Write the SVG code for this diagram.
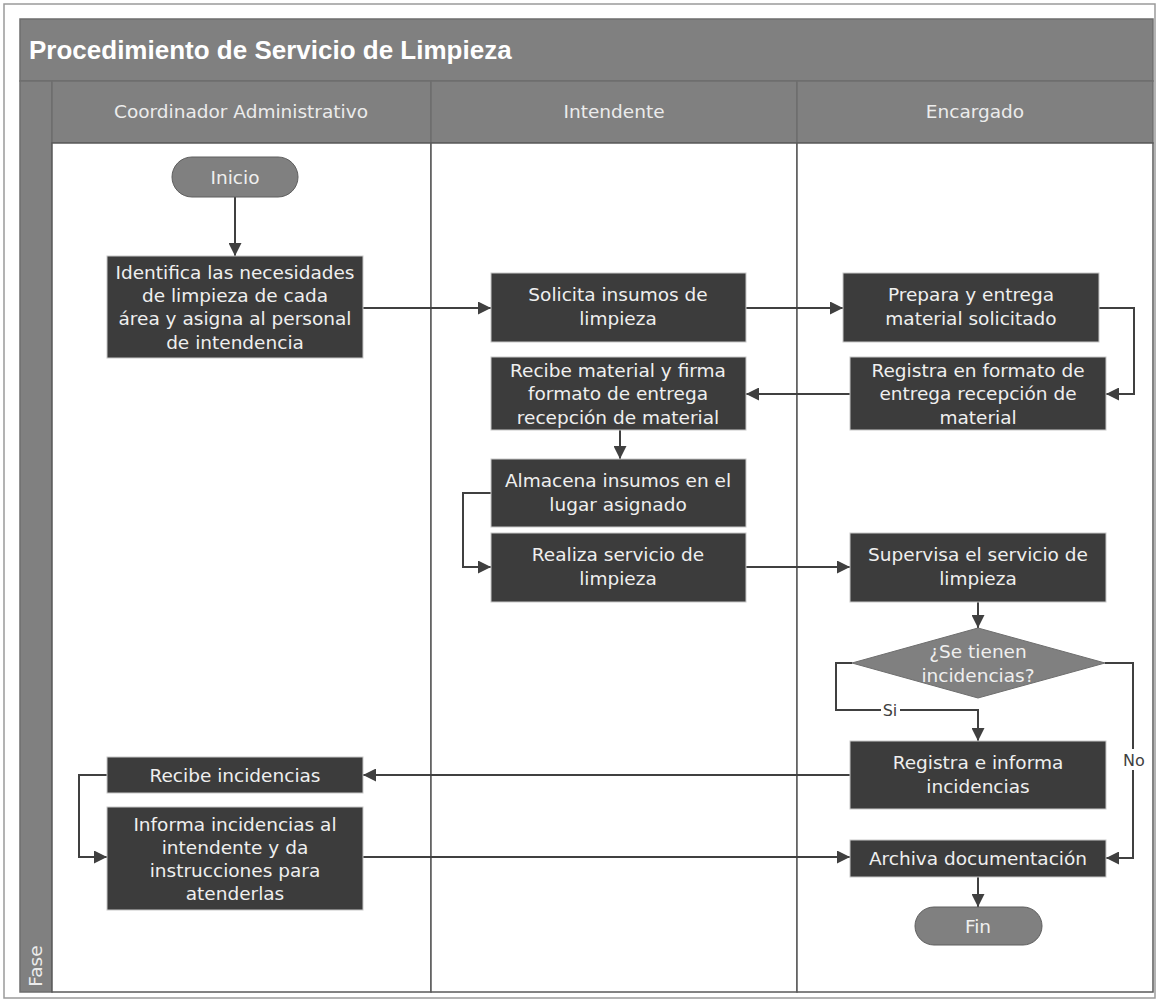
<svg xmlns="http://www.w3.org/2000/svg" width="1159" height="999" viewBox="0 0 1159 999">
<style>
  .frame{fill:none;stroke:#9a9a9a;stroke-width:1.5}
  .band{fill:#808080;stroke:#6e6e6e;stroke-width:1.5}
  .lane{fill:#ffffff;stroke:#5a5a5a;stroke-width:1.5}
  .title{font-family:"Liberation Sans",Arial,sans-serif;font-weight:bold;font-size:26px;fill:#ffffff}
  .hdr{font-family:"DejaVu Sans","Liberation Sans",sans-serif;font-size:18.5px;fill:#ececec;text-anchor:middle}
  .box{fill:#3c3c3c;stroke:#c8c8c8;stroke-width:1}
  .term{fill:#808080;stroke:#5e5e5e;stroke-width:1}
  .t{font-family:"DejaVu Sans","Liberation Sans",sans-serif;font-size:18.5px;fill:#efefef;text-anchor:middle}
  .conn{fill:none;stroke:#404040;stroke-width:2}
  .lbl{font-family:"DejaVu Sans","Liberation Sans",sans-serif;font-size:16px;fill:#404040;text-anchor:middle}
</style>
<defs>
  <marker id="arr" viewBox="0 0 12 12" refX="12" refY="6" markerWidth="13" markerHeight="13" markerUnits="userSpaceOnUse" orient="auto">
    <path d="M0,0 L12,6 L0,12 Z" fill="#404040"/>
  </marker>
</defs>

<rect width="1159" height="999" fill="#ffffff"/>
<rect class="frame" x="4" y="4" width="1151" height="994"/>

<g id="pool">
  <rect class="band" x="20" y="19" width="1133" height="62"/>
  <text class="title" x="29" y="59">Procedimiento de Servicio de Limpieza</text>
  <rect class="band" x="20" y="81" width="32" height="911"/>
  <text class="hdr" transform="translate(42,966) rotate(-90)">Fase</text>
</g>

<g id="lane-coordinador">
  <rect class="band" x="52" y="81" width="379" height="62"/>
  <text class="hdr" x="241" y="118">Coordinador Administrativo</text>
  <rect class="lane" x="52" y="143" width="379" height="849"/>
</g>
<g id="lane-intendente">
  <rect class="band" x="431" y="81" width="366" height="62"/>
  <text class="hdr" x="614" y="118">Intendente</text>
  <rect class="lane" x="431" y="143" width="366" height="849"/>
</g>
<g id="lane-encargado">
  <rect class="band" x="797" y="81" width="356" height="62"/>
  <text class="hdr" x="975" y="118">Encargado</text>
  <rect class="lane" x="797" y="143" width="356" height="849"/>
</g>

<g id="connectors">
  <path class="conn" marker-end="url(#arr)" d="M235,197 V256"/>
  <path class="conn" marker-end="url(#arr)" d="M363,308 H491"/>
  <path class="conn" marker-end="url(#arr)" d="M746,308 H843"/>
  <path class="conn" marker-end="url(#arr)" d="M1099,308 H1134 V394 H1106"/>
  <path class="conn" marker-end="url(#arr)" d="M850,394 H746"/>
  <path class="conn" marker-end="url(#arr)" d="M620,430 V459"/>
  <path class="conn" marker-end="url(#arr)" d="M491,493 H463 V567 H491"/>
  <path class="conn" marker-end="url(#arr)" d="M746,567 H850"/>
  <path class="conn" marker-end="url(#arr)" d="M978,602 V628"/>
  <path class="conn" marker-end="url(#arr)" d="M852,663 H836 V710 H978 V741"/>
  <path class="conn" marker-end="url(#arr)" d="M1105,663 H1133 V858 H1106"/>
  <path class="conn" marker-end="url(#arr)" d="M850,775 H363"/>
  <path class="conn" marker-end="url(#arr)" d="M107,775 H79 V857 H107"/>
  <path class="conn" marker-end="url(#arr)" d="M363,857 H850"/>
  <path class="conn" marker-end="url(#arr)" d="M978,877 V907"/>
  <rect x="881" y="701" width="19" height="18" fill="#ffffff"/>
  <text class="lbl" x="890" y="716">Si</text>
  <rect x="1120" y="749" width="27" height="21" fill="#ffffff"/>
  <text class="lbl" x="1134" y="766">No</text>
</g>

<g id="inicio">
  <rect class="term" x="172" y="157" width="126" height="40" rx="20"/>
  <text class="t" x="235" y="184">Inicio</text>
</g>
<g id="identifica">
  <rect class="box" x="107" y="256" width="256" height="102"/>
  <text class="t" x="235" y="279">Identifica las necesidades</text>
  <text class="t" x="235" y="302">de limpieza de cada</text>
  <text class="t" x="235" y="325">área y asigna al personal</text>
  <text class="t" x="235" y="349">de intendencia</text>
</g>
<g id="solicita">
  <rect class="box" x="491" y="273" width="255" height="69"/>
  <text class="t" x="618" y="301">Solicita insumos de</text>
  <text class="t" x="618" y="325">limpieza</text>
</g>
<g id="prepara">
  <rect class="box" x="843" y="273" width="256" height="69"/>
  <text class="t" x="971" y="301">Prepara y entrega</text>
  <text class="t" x="971" y="325">material solicitado</text>
</g>
<g id="recibe-material">
  <rect class="box" x="491" y="357" width="255" height="73"/>
  <text class="t" x="618" y="377">Recibe material y firma</text>
  <text class="t" x="618" y="400">formato de entrega</text>
  <text class="t" x="618" y="424">recepción de material</text>
</g>
<g id="registra-formato">
  <rect class="box" x="850" y="357" width="256" height="73"/>
  <text class="t" x="978" y="377">Registra en formato de</text>
  <text class="t" x="978" y="400">entrega recepción de</text>
  <text class="t" x="978" y="424">material</text>
</g>
<g id="almacena">
  <rect class="box" x="491" y="459" width="255" height="68"/>
  <text class="t" x="618" y="487">Almacena insumos en el</text>
  <text class="t" x="618" y="511">lugar asignado</text>
</g>
<g id="realiza">
  <rect class="box" x="491" y="533" width="255" height="69"/>
  <text class="t" x="618" y="561">Realiza servicio de</text>
  <text class="t" x="618" y="585">limpieza</text>
</g>
<g id="supervisa">
  <rect class="box" x="850" y="533" width="256" height="69"/>
  <text class="t" x="978" y="561">Supervisa el servicio de</text>
  <text class="t" x="978" y="585">limpieza</text>
</g>
<g id="decision">
  <polygon points="978,628 1105,663 978,698 852,663" fill="#808080" stroke="#6e6e6e" stroke-width="1"/>
  <text class="t" x="978" y="658">¿Se tienen</text>
  <text class="t" x="978" y="682">incidencias?</text>
</g>
<g id="registra-incidencias">
  <rect class="box" x="850" y="741" width="256" height="68"/>
  <text class="t" x="978" y="769">Registra e informa</text>
  <text class="t" x="978" y="793">incidencias</text>
</g>
<g id="recibe-incidencias">
  <rect class="box" x="107" y="757" width="256" height="36"/>
  <text class="t" x="235" y="782">Recibe incidencias</text>
</g>
<g id="informa">
  <rect class="box" x="107" y="807" width="256" height="103"/>
  <text class="t" x="235" y="831">Informa incidencias al</text>
  <text class="t" x="235" y="854">intendente y da</text>
  <text class="t" x="235" y="877">instrucciones para</text>
  <text class="t" x="235" y="900">atenderlas</text>
</g>
<g id="archiva">
  <rect class="box" x="850" y="840" width="256" height="37"/>
  <text class="t" x="978" y="865">Archiva documentación</text>
</g>
<g id="fin">
  <rect class="term" x="915" y="907" width="127" height="38" rx="19"/>
  <text class="t" x="978" y="933">Fin</text>
</g>
</svg>
